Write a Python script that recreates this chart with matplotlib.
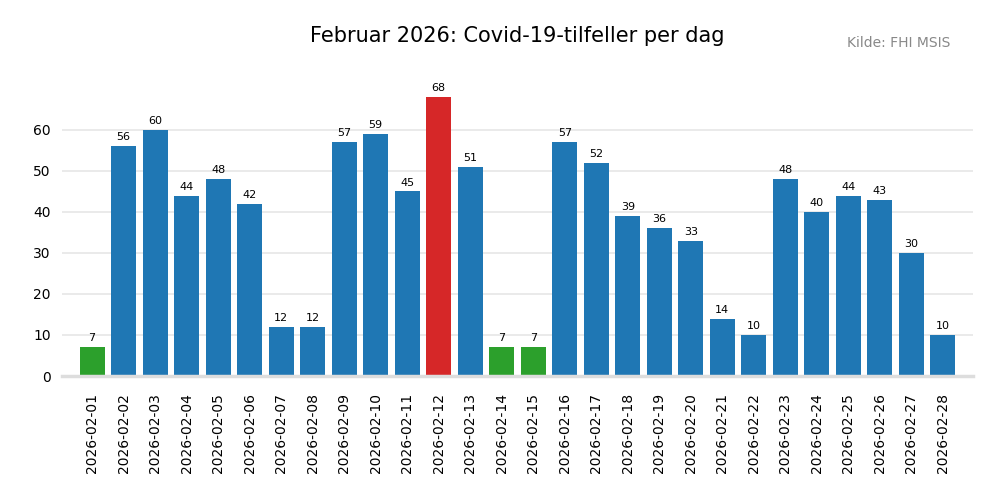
import matplotlib
matplotlib.use("Agg")
import matplotlib.pyplot as plt

dates = [f"2026-02-{d:02d}" for d in range(1, 29)]
cases = [7, 56, 60, 44, 48, 42, 12, 12, 57, 59, 45, 68, 51, 7, 7, 57, 52, 39, 36, 33, 14, 10, 48, 40, 44, 43, 30, 10]

mx, mn = max(cases), min(cases)
colors = ["#d62728" if v == mx else "#2ca02c" if v == mn else "#1f77b4" for v in cases]

fig = plt.figure(figsize=(10, 5), dpi=100)
ax = fig.add_axes([0.062, 0.248, 0.911, 0.566])
x = list(range(len(dates)))
bars = ax.bar(x, cases, color=colors, width=0.8, zorder=3)
for xi, v in zip(x, cases):
    ax.text(xi, v + 0.95, str(v), ha="center", va="bottom", fontsize=8, clip_on=False)

ax.set_xticks(x)
ax.set_xticklabels(dates, rotation=90, fontsize=10)
ax.set_yticks([0, 10, 20, 30, 40, 50, 60])
ax.tick_params(axis="y", labelsize=10, length=0, pad=8)
ax.tick_params(axis="x", length=0, pad=12)
ax.set_xlim(-0.956, 27.956)
ax.set_ylim(0, 69)
ax.grid(axis="y", color="#e8e8e8", linewidth=1.3, zorder=0)
for s in ["top", "right", "left"]:
    ax.spines[s].set_visible(False)
ax.spines["bottom"].set_color("#dddddd")
ax.spines["bottom"].set_linewidth(2.5)
ax.spines["bottom"].set_zorder(4)

fig.text(0.5175, 0.928, "Februar 2026: Covid-19-tilfeller per dag", ha="center", va="center", fontsize=15)
fig.text(0.95, 0.914, "Kilde: FHI MSIS", ha="right", va="center", fontsize=10, color="#888888")

fig.savefig("out.png", dpi=100)
